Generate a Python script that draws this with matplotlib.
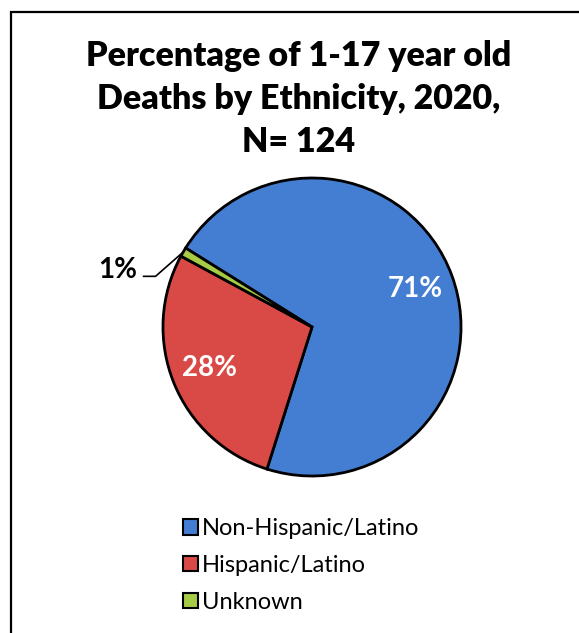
import numpy as np
import matplotlib.pyplot as plt
from matplotlib.patches import Rectangle

labels = ['Non-Hispanic/Latino', 'Hispanic/Latino', 'Unknown']
values = [71, 28, 1]
colors = ['#447ED2', '#D94A46', '#A6CB45']
title = 'Percentage of 1-17 year old\nDeaths by Ethnicity, 2020,\nN= 124'

W, H = 579, 633
fig = plt.figure(figsize=(W / 100, H / 100), dpi=100)
plt.rcParams['font.family'] = ['Lato', 'DejaVu Sans']

# frame (only top and left edges fall inside the image)
fig.patches.append(Rectangle((11 / W, -0.1), 1.2, 1 - 12 / H + 0.1,
                             transform=fig.transFigure, fill=False,
                             edgecolor='black', linewidth=1.6))

fig.text(299 / W, 1 - 99 / H, title, ha='center', va='center',
         fontsize=24.5, fontweight='heavy', linespacing=1.43)

# pie axes: centre (312, 327) px, radius 152 px
cx, cy, r = 312, 327, 152
ax = fig.add_axes([(cx - r) / W, 1 - (cy + r) / H, 2 * r / W, 2 * r / H])
wedges, texts, autotexts = ax.pie(
    values, colors=colors, startangle=148, counterclock=False,
    autopct=lambda p: f'{p:.0f}%', pctdistance=0.74,
    wedgeprops=dict(edgecolor='black', linewidth=2),
    textprops=dict(color='white', fontsize=20, fontweight='bold'))
ax.set_xlim(-1.02, 1.02)
ax.set_ylim(-1.02, 1.02)
ax.set_aspect('equal')
ax.axis('off')

# small slice gets an outside label with a leader line
w = wedges[2]
mid = np.deg2rad((w.theta1 + w.theta2) / 2)
rim = (np.cos(mid), np.sin(mid))
autotexts[2].set_position((-1.17, 0.38))
autotexts[2].set_color('black')
autotexts[2].set_ha('right')
autotexts[2].set_va('center')
ax.plot([rim[0], -1.05, -1.13], [rim[1], 0.34, 0.34], color='black',
        linewidth=1.2, clip_on=False)

leg = fig.legend(wedges, labels, loc='upper left',
                 bbox_to_anchor=(174 / W, 1 - 509 / H), frameon=False,
                 fontsize=17, handlelength=0.62, handleheight=0.62,
                 handletextpad=0.15, labelspacing=0.66, borderaxespad=0)
for h in leg.legend_handles:
    h.set_linewidth(1.5)

fig.savefig('out.png', dpi=100)
